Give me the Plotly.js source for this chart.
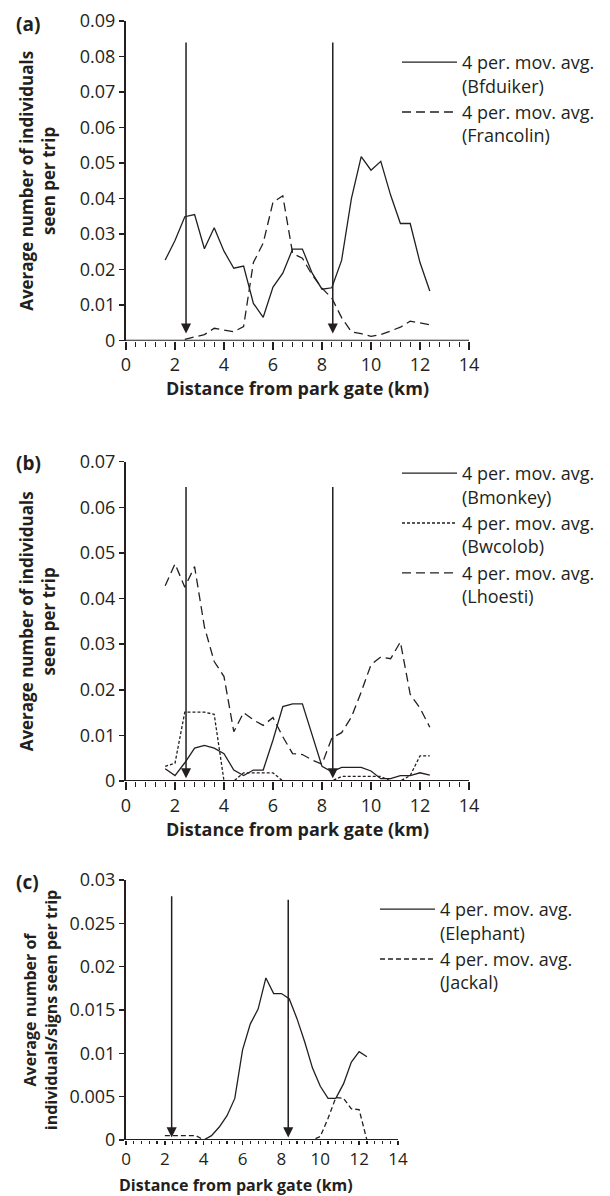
<!DOCTYPE html>
<html>
<head>
<meta charset="utf-8">
<script src="https://cdn.plot.ly/plotly-3.0.1.min.js"></script>
<style>html,body{margin:0;padding:0;background:#fff;}#chart{width:610px;height:1196px;}</style>
</head>
<body>
<div id="chart"></div>
<script>
// ---------- DATA ----------
// Panel (a)
const distA_bf = [1.6,2.0,2.4,2.8,3.2,3.6,4.0,4.4,4.8,5.2,5.6,6.0,6.4,6.8,7.2,7.6,8.0,8.4,8.8,9.2,9.6,10.0,10.4,10.8,11.2,11.6,12.0,12.4];
const bfduiker = [0.0227,0.0282,0.0349,0.0355,0.0259,0.0318,0.0252,0.0204,0.0210,0.0105,0.0066,0.0151,0.0190,0.0258,0.0258,0.0190,0.0145,0.0149,0.0226,0.0400,0.0518,0.0480,0.0505,0.0410,0.0330,0.0330,0.0220,0.0140];
const distA_fr = [2.4,2.8,3.2,3.6,4.0,4.4,4.8,5.2,5.6,6.0,6.4,6.8,7.2,7.6,8.0,8.4,8.8,9.2,9.6,10.0,10.4,10.8,11.2,11.6,12.0,12.4];
const francolin = [0.0004,0.0010,0.0017,0.0035,0.0030,0.0025,0.0040,0.0220,0.0275,0.0390,0.0408,0.0246,0.0232,0.0185,0.0148,0.0120,0.0065,0.0025,0.0020,0.0012,0.0017,0.0027,0.0038,0.0055,0.0050,0.0045];
// Panel (b)
const distB = [1.6,2.0,2.4,2.8,3.2,3.6,4.0,4.4,4.8,5.2,5.6,6.0,6.4,6.8,7.2,7.6,8.0,8.4,8.8,9.2,9.6,10.0,10.4,10.8,11.2,11.6,12.0,12.4];
const bmonkey = [0.0027,0.0012,0.0040,0.0072,0.0078,0.0072,0.0060,0.0024,0.0012,0.0024,0.0024,0.0090,0.0163,0.0169,0.0169,0.0098,0.0032,0.0020,0.0030,0.0030,0.0030,0.0022,0.0005,0.0005,0.0012,0.0012,0.0018,0.0013];
const bwcolob = [0.0032,0.0039,0.0151,0.0151,0.0151,0.0146,0.0,0.0,0.0018,0.0018,0.0018,0.0018,0.0,0.0,0.0,0.0,0.0,0.0,0.0010,0.0010,0.0010,0.0010,0.0010,0.0,0.0,0.0012,0.0055,0.0055];
const lhoesti = [0.0428,0.0476,0.0425,0.0470,0.0338,0.0262,0.0229,0.0108,0.0150,0.0134,0.0122,0.0139,0.0097,0.0060,0.0058,0.0046,0.0037,0.0094,0.0106,0.0140,0.0195,0.0255,0.0272,0.0268,0.0305,0.0190,0.0160,0.0118];
// Panel (c)
const distC_el = [3.6,4.0,4.4,4.8,5.2,5.6,6.0,6.4,6.8,7.2,7.6,8.0,8.4,8.8,9.2,9.6,10.0,10.4,10.8,11.2,11.6,12.0,12.4];
const elephant = [0.0,0.0,0.0005,0.0015,0.0028,0.0048,0.0104,0.0134,0.0151,0.0187,0.0169,0.0169,0.0163,0.0140,0.0113,0.0083,0.0062,0.0048,0.0048,0.0065,0.0090,0.0102,0.0096];
const distC_ja = [2.0,2.4,2.8,3.2,3.6,4.0,4.4,4.8,5.2,5.6,6.0,6.4,6.8,7.2,7.6,8.0,8.4,8.8,9.2,9.6,10.0,10.4,10.8,11.2,11.6,12.0,12.4];
const jackal = [0.0005,0.0005,0.0005,0.0005,0.0005,0.0,0.0,0.0,0.0,0.0,0.0,0.0,0.0,0.0,0.0,0.0,0.0,0.0,0.0,0.0,0.0004,0.0025,0.0049,0.0048,0.0036,0.0035,0.0];
// Arrows marking zone boundaries (km) and their top / tip values per panel
const arrowKmAB = [2.45, 8.44];
const arrowKmC = [2.35, 8.35];
const arrowTopA = 0.0844, arrowTipA = 0.0020;
const arrowTopB = 0.0648, arrowTipB = 0.0006;
const arrowTopC = [0.0283, 0.0279], arrowTipC = 0.0003;
// Texts
const xTitle = 'Distance from park gate (km)';
const yTitleAB = 'Average number of individuals<br>seen per trip';
const yTitleC = 'Average number of<br>individuals/signs seen per trip';
const legendPrefix = '4 per. mov. avg.';

// ---------- STYLE / LAYOUT ----------
const W = 610, H = 1196;
const INK = '#231f20';
const FONT = 'Open Sans, Noto Sans, sans-serif';
const px = p => p / W;
const py = p => 1 - p / H;

function xax(d0, d1, anchor, opts) {
  const a = {
    domain: [px(d0), px(d1)], range: [0, 14], dtick: 2, tick0: 0, anchor: anchor,
    showline: false, ticks: 'outside', ticklen: 8, tickwidth: 1.5, tickcolor: INK,
    minor: {dtick: 0.4, ticks: 'outside', ticklen: 5, tickwidth: 1.2, tickcolor: INK},
    showgrid: false, zeroline: false, fixedrange: true,
    tickfont: {family: FONT, size: 18, color: INK},
    title: {text: '<b>' + xTitle + '</b>', font: {family: FONT, size: 18, color: INK}, standoff: 5}
  };
  return Object.assign(a, opts || {});
}
function yax(top, bottom, maxv, dt, anchor, title, size, standoff) {
  return {
    domain: [py(bottom), py(top)], range: [0, maxv], dtick: dt, tick0: 0, anchor: anchor,
    showline: true, linecolor: INK, linewidth: 2, ticks: 'outside', ticklen: 5, tickwidth: 1.5, tickcolor: INK,
    showgrid: false, zeroline: false, fixedrange: true,
    tickfont: {family: FONT, size: 18, color: INK},
    title: {text: '<b>' + title + '</b>', font: {family: FONT, size: size, color: INK}, standoff: standoff}
  };
}

const solid = {color: INK, width: 1.3};
const traces = [
  {x: distA_bf, y: bfduiker, xaxis: 'x', yaxis: 'y', mode: 'lines', line: Object.assign({}, solid, {dash: 'solid'}),
   name: legendPrefix + '<br>(Bfduiker)', legend: 'legend', legendgroup: 'a1'},
  {x: distA_fr, y: francolin, xaxis: 'x', yaxis: 'y', mode: 'lines', line: Object.assign({}, solid, {dash: '9px,5px'}),
   name: legendPrefix + '<br>(Francolin)', legend: 'legend', legendgroup: 'a2'},
  {x: distB, y: bmonkey, xaxis: 'x2', yaxis: 'y2', mode: 'lines', line: Object.assign({}, solid, {dash: 'solid'}),
   name: legendPrefix + '<br>(Bmonkey)', legend: 'legend2', legendgroup: 'b1'},
  {x: distB, y: bwcolob, xaxis: 'x2', yaxis: 'y2', mode: 'lines', line: Object.assign({}, solid, {dash: '3px,2px'}),
   name: legendPrefix + '<br>(Bwcolob)', legend: 'legend2', legendgroup: 'b2'},
  {x: distB, y: lhoesti, xaxis: 'x2', yaxis: 'y2', mode: 'lines', line: Object.assign({}, solid, {dash: '9px,5px'}),
   name: legendPrefix + '<br>(Lhoesti)', legend: 'legend2', legendgroup: 'b3'},
  {x: distC_el, y: elephant, xaxis: 'x3', yaxis: 'y3', mode: 'lines', line: Object.assign({}, solid, {dash: 'solid'}),
   name: legendPrefix + '<br>(Elephant)', legend: 'legend3', legendgroup: 'c1'},
  {x: distC_ja, y: jackal, xaxis: 'x3', yaxis: 'y3', mode: 'lines', line: Object.assign({}, solid, {dash: '5px,3px'}),
   name: legendPrefix + '<br>(Jackal)', legend: 'legend3', legendgroup: 'c2'}
];

function arrow(xref, yref, km, tip, top) {
  return {xref: xref, yref: yref, axref: xref, ayref: yref, x: km, y: tip, ax: km, ay: top, text: '',
    showarrow: true, arrowhead: 2, arrowsize: 1.35, arrowwidth: 1.5, arrowcolor: INK};
}
const annotations = [];
arrowKmAB.forEach(k => annotations.push(arrow('x', 'y', k, arrowTipA, arrowTopA)));
arrowKmAB.forEach(k => annotations.push(arrow('x2', 'y2', k, arrowTipB, arrowTopB)));
arrowKmC.forEach((k, i) => annotations.push(arrow('x3', 'y3', k, arrowTipC, arrowTopC[i])));
[['(a)', 24], ['(b)', 463], ['(c)', 882]].forEach(([t, yp]) => annotations.push({
  xref: 'paper', yref: 'paper', x: px(14), y: py(yp), xanchor: 'left', yanchor: 'middle', showarrow: false,
  text: '<b>' + t + '</b>', font: {family: FONT, size: 19, color: INK}
}));
// x-axis title of panel (c), which sits left of the axis centre in the reference
annotations.push({xref: 'paper', yref: 'paper', x: px(236), y: py(1185), xanchor: 'center', yanchor: 'middle',
  showarrow: false, borderpad: 0, text: '<b>' + xTitle + '</b>', font: {family: FONT, size: 16, color: INK}});

// x-axis lines drawn on top of the traces so zero-valued stretches are hidden under them, as in the reference
const shapes = [['x', 'y'], ['x2', 'y2'], ['x3', 'y3']].map(([xr, yr]) => ({
  type: 'line', xref: xr + ' domain', yref: yr, x0: -0.004, x1: 1, y0: 0, y1: 0, layer: 'above',
  line: {color: INK, width: 2}
}));

function leg(xp, ytop, gap) {
  return {x: px(xp), y: py(ytop), xanchor: 'left', yanchor: 'top', bgcolor: 'rgba(0,0,0,0)', borderwidth: 0,
    font: {family: FONT, size: 18, color: INK}, valign: 'top', tracegroupgap: gap, traceorder: 'normal',
    itemwidth: 55, itemclick: false, itemdoubleclick: false};
}

const layout = {
  width: W, height: H, margin: {l: 0, r: 0, t: 0, b: 0}, paper_bgcolor: '#fff', plot_bgcolor: '#fff',
  font: {family: FONT, color: INK},
  showlegend: true,
  xaxis: xax(126, 469, 'y'), yaxis: yax(21, 340.7, 0.09, 0.01, 'x', yTitleAB, 17, 20),
  xaxis2: xax(126, 469, 'y2'), yaxis2: yax(461.7, 781, 0.07, 0.01, 'x2', yTitleAB, 17, 20),
  xaxis3: xax(126, 398, 'y3', {ticklen: 4, minor: {dtick: 0.4, ticks: 'outside', ticklen: 3, tickwidth: 1.2, tickcolor: INK},
    tickfont: {family: FONT, size: 17, color: INK}, title: {text: ''}}),
  yaxis3: yax(880, 1140, 0.03, 0.005, 'x3', yTitleC, 16, 8),
  legend: leg(397, 44, 14),
  legend2: leg(397, 455, 14),
  legend3: leg(375, 891, 6),
  annotations: annotations,
  shapes: shapes
};

Plotly.newPlot('chart', traces, layout, {displayModeBar: false, staticPlot: true});
</script>
</body>
</html>
